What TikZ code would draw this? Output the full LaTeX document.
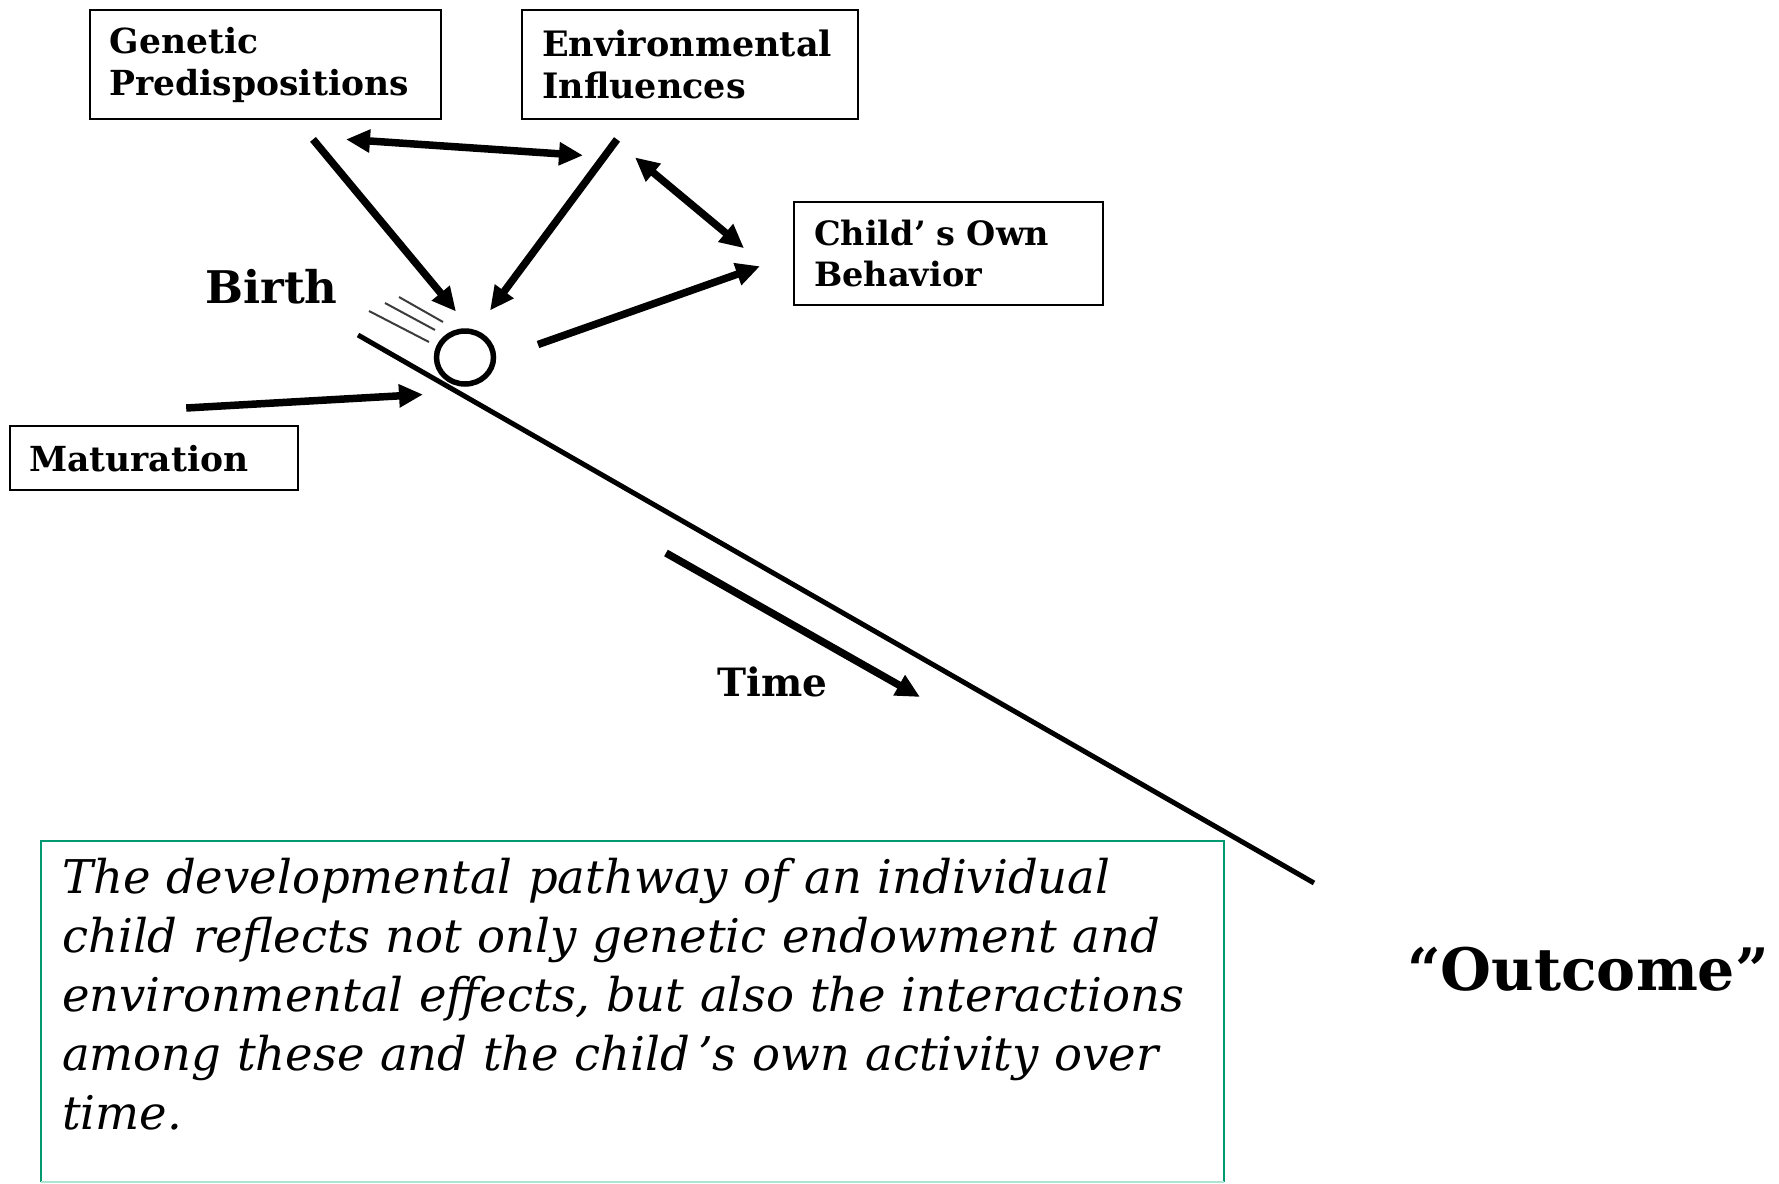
\documentclass[tikz,border=0pt]{standalone}
\usepackage{fontspec}
\setmainfont{DejaVu Serif}
\usetikzlibrary{arrows.meta,shapes.geometric}
\definecolor{notegreen}{RGB}{0,153,112}
\definecolor{notemint}{RGB}{175,228,210}
\definecolor{speedgray}{RGB}{60,60,60}
\begin{document}
\begin{tikzpicture}[x=1pt,y=-1pt,
  box/.style={draw, line width=2.4pt, anchor=north west, align=left,
    inner ysep=0pt, font=\bfseries},
  arr/.style={line width=7.5pt, -{Triangle[length=24pt,width=22pt]}},
  dblarr/.style={line width=7.5pt, {Triangle[length=24pt,width=22pt]}-{Triangle[length=24pt,width=22pt]}},
  label/.style={anchor=base west, inner sep=0pt, font=\bfseries}]
\useasboundingbox (0,0) rectangle (1779,1183);

% influence boxes
\node[box, minimum width=351.5pt, minimum height=109pt, text width=311.5pt, inner xsep=20pt,
  font=\bfseries\fontsize{34.5}{42}\selectfont] (gen) at (88.5,9) {Genetic\\Predispositions};
\node[box, minimum width=336pt, minimum height=109pt, text width=296pt, inner xsep=20pt,
  font=\bfseries\fontsize{35}{42}\selectfont] (env) at (521,9) {Environmental\\Influences};
\node[box, minimum width=309pt, minimum height=103pt, text width=269pt, inner xsep=20pt,
  font=\bfseries\fontsize{33.5}{41}\selectfont] (child) at (793,201) {Child’ s Own\\Behavior};
\node[box, minimum width=288pt, minimum height=64pt, text width=250pt, inner xsep=19pt,
  font=\bfseries\fontsize{34.5}{40}\selectfont] (mat) at (9,425) {Maturation};

% the path of development and the rolling ball
\coordinate (start) at (358,335);
\coordinate (finish) at (1314,883);
\draw[line width=5pt] (start) -- (finish);
\node[ellipse, draw, line width=5.5pt, minimum width=57pt, minimum height=53pt, inner sep=0pt] (ball) at (465,357.5) {};
\draw[speedgray, line width=2pt] (399,297) -- (443,322);
\draw[speedgray, line width=2pt] (385,303) -- (435,330);
\draw[speedgray, line width=2pt] (369,311) -- (429,342);

% labels
\node[label, font=\bfseries\fontsize{45}{54}\selectfont] (birth) at (205,303) {Birth};
\node[label, font=\bfseries\fontsize{39}{47}\selectfont] (time) at (717,696) {Time};
\node[label, font=\bfseries\fontsize{58.5}{70}\selectfont] (outcome) at (1407,990) {“Outcome”};

% influences
\draw[arr] ([shift={(224.5,19)}]gen.south west) -- ([shift={(-9,-46)}]ball.center);
\draw[arr] ([shift={(96,19)}]env.south west) -- ([shift={(25,-47)}]ball.center);
\draw[dblarr] ([shift={(257.5,19)}]gen.south west) -- ([shift={(62,35)}]env.south west);
\draw[dblarr] ([shift={(114,37)}]env.south west) -- ([shift={(-49,-5.5)}]child.west);
\draw[arr] ([shift={(73,-13)}]ball.center) -- ([shift={(-33,12.5)}]child.west);
\draw[arr] ([shift={(32,-17)}]mat.north) -- ([shift={(-42,37)}]ball.center);
\draw[arr] ([shift={(-51,-143)}]time.base west) -- ([shift={(203,1)}]time.base west);

% explanatory note
\node[anchor=north west, minimum width=1183pt, minimum height=341pt, inner sep=0pt] (note) at (41,841) {};
\draw[notegreen, line width=2pt] (note.south west) -- (note.north west) -- (note.north east) -- (note.south east);
\draw[notemint, line width=2pt] (note.south west) -- (note.south east);
\node[anchor=north west, inner sep=0pt, text width=1170pt, align=left,
  font=\itshape\fontsize{46.5}{59}\selectfont] (notetext) at ([shift={(21,17)}]note.north west)
  {The developmental pathway of an individual\\
   child reflects not only genetic endowment and\\
   environmental effects, but also the interactions\\
   among these and the child\,’s own activity over\\
   time.};
\end{tikzpicture}
\end{document}
